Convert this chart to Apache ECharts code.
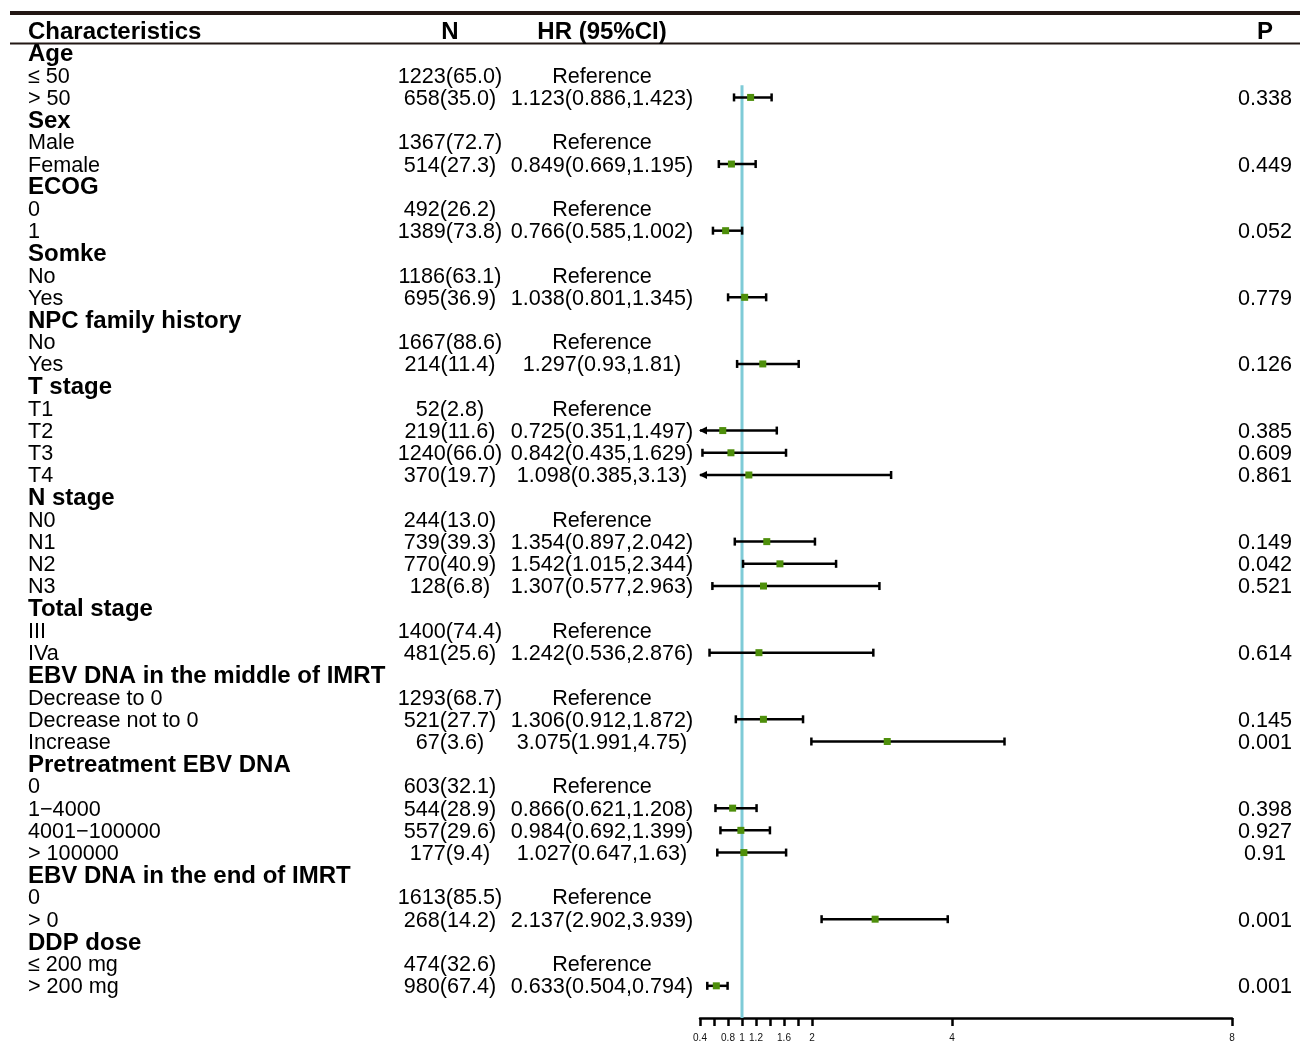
<!DOCTYPE html>
<html>
<head>
<meta charset="utf-8">
<title>Forest plot</title>
<script src="https://cdn.jsdelivr.net/npm/echarts@6/dist/echarts.min.js"></script>
<style>
  html, body { margin: 0; padding: 0; background: #ffffff; }
  #chart { width: 1300px; height: 1054px; }
</style>
</head>
<body>
<div id="chart"></div>
<script>
// Column titles of the table
const columnTitles = ['Characteristics', 'N', 'HR (95%CI)', 'P'];

// One entry per table row; group headings have no count
const characteristics = [
  'Age', '\u2264 50', '> 50',
  'Sex', 'Male', 'Female',
  'ECOG', '0', '1',
  'Somke', 'No', 'Yes',
  'NPC family history', 'No', 'Yes',
  'T stage', 'T1', 'T2', 'T3', 'T4',
  'N stage', 'N0', 'N1', 'N2', 'N3',
  'Total stage', 'III', 'IVa',
  'EBV DNA in the middle of IMRT', 'Decrease to 0', 'Decrease not to 0', 'Increase',
  'Pretreatment EBV DNA', '0', '1\u22124000', '4001\u2212100000', '> 100000',
  'EBV DNA in the end of IMRT', '0', '> 0',
  'DDP dose', '\u2264 200 mg', '> 200 mg'
];

const nCount = [
  null, 1223, 658,
  null, 1367, 514,
  null, 492, 1389,
  null, 1186, 695,
  null, 1667, 214,
  null, 52, 219, 1240, 370,
  null, 244, 739, 770, 128,
  null, 1400, 481,
  null, 1293, 521, 67,
  null, 603, 544, 557, 177,
  null, 1613, 268,
  null, 474, 980
];

const nPercent = [
  null, 65.0, 35.0,
  null, 72.7, 27.3,
  null, 26.2, 73.8,
  null, 63.1, 36.9,
  null, 88.6, 11.4,
  null, 2.8, 11.6, 66.0, 19.7,
  null, 13.0, 39.3, 40.9, 6.8,
  null, 74.4, 25.6,
  null, 68.7, 27.7, 3.6,
  null, 32.1, 28.9, 29.6, 9.4,
  null, 85.5, 14.2,
  null, 32.6, 67.4
];

// Hazard ratio and its 95% CI (null on heading and reference rows)
const hazardRatio = [
  null, null, 1.123,
  null, null, 0.849,
  null, null, 0.766,
  null, null, 1.038,
  null, null, 1.297,
  null, null, 0.725, 0.842, 1.098,
  null, null, 1.354, 1.542, 1.307,
  null, null, 1.242,
  null, null, 1.306, 3.075,
  null, null, 0.866, 0.984, 1.027,
  null, null, 2.137,
  null, null, 0.633
];

const ciLower = [
  null, null, 0.886,
  null, null, 0.669,
  null, null, 0.585,
  null, null, 0.801,
  null, null, 0.93,
  null, null, 0.351, 0.435, 0.385,
  null, null, 0.897, 1.015, 0.577,
  null, null, 0.536,
  null, null, 0.912, 1.991,
  null, null, 0.621, 0.692, 0.647,
  null, null, 2.902,
  null, null, 0.504
];

const ciUpper = [
  null, null, 1.423,
  null, null, 1.195,
  null, null, 1.002,
  null, null, 1.345,
  null, null, 1.81,
  null, null, 1.497, 1.629, 3.13,
  null, null, 2.042, 2.344, 2.963,
  null, null, 2.876,
  null, null, 1.872, 4.75,
  null, null, 1.208, 1.399, 1.63,
  null, null, 3.939,
  null, null, 0.794
];

const pValue = [
  null, null, 0.338,
  null, null, 0.449,
  null, null, 0.052,
  null, null, 0.779,
  null, null, 0.126,
  null, null, 0.385, 0.609, 0.861,
  null, null, 0.149, 0.042, 0.521,
  null, null, 0.614,
  null, null, 0.145, 0.001,
  null, null, 0.398, 0.927, 0.91,
  null, null, 0.001,
  null, null, 0.001
];

// Horizontal axis ticks and the subset that carries a label
const axisTicks = [0.4, 0.6, 0.8, 1, 1.2, 1.4, 1.6, 1.8, 2, 4, 8];
const axisLabels = [0.4, 0.8, 1, 1.2, 1.6, 2, 4, 8];

// ---------------------------------------------------------------------------

const X_MIN = 0.4, X_MAX = 8;
const ROW_FIRST = 53, ROW_STEP = 22.21;     // pixel layout of the table rows
const AXIS_ROW = 43.45;                     // row position of the x axis
const TEXT_SHIFT = 1.5;                     // nudges text onto the row centre line
const FONT = '"Liberation Sans", Arial, Helvetica, sans-serif';
const TEXT_SIZE = 21.6, HEAD_SIZE = 24;
const COL_LABEL = 28, COL_N = 450, COL_HR = 602, COL_P = 1265;

const nText = nCount.map((n, i) => n == null ? '' : n + '(' + nPercent[i].toFixed(1) + ')');
const hrText = hazardRatio.map((h, i) => {
  if (nCount[i] == null) return '';
  if (h == null) return 'Reference';
  return String(h) + '(' + String(ciLower[i]) + ',' + String(ciUpper[i]) + ')';
});
const pText = pValue.map(p => p == null ? '' : String(p));

// Rows with an estimate: box at the middle value, whisker from smallest to largest
const estimateRows = [];
hazardRatio.forEach((h, i) => {
  if (h == null) return;
  const v = [h, ciLower[i], ciUpper[i]].sort((a, b) => a - b);
  estimateRows.push({ row: i, lo: v[0], mid: v[1], hi: v[2] });
});

const tableData = characteristics.map((_, i) => [X_MIN, i]);
tableData.unshift([X_MIN, -1]);   // column title row

function textEl(x, y, text, opts) {
  return {
    type: 'text',
    x: x, y: y + TEXT_SHIFT,
    style: {
      text: text,
      fill: '#000',
      fontFamily: FONT,
      fontSize: opts.size,
      fontWeight: opts.bold ? 'bold' : 'normal',
      align: opts.align,
      verticalAlign: 'middle'
    }
  };
}

function renderTableRow(params, api) {
  const i = api.value(1);
  const y = api.coord([X_MIN, i])[1];
  const children = [];
  if (i === -1) {
    children.push(textEl(COL_LABEL, y, columnTitles[0], { size: HEAD_SIZE, bold: true, align: 'left' }));
    children.push(textEl(COL_N, y, columnTitles[1], { size: HEAD_SIZE, bold: true, align: 'center' }));
    children.push(textEl(COL_HR, y, columnTitles[2], { size: HEAD_SIZE, bold: true, align: 'center' }));
    children.push(textEl(COL_P, y, columnTitles[3], { size: HEAD_SIZE, bold: true, align: 'center' }));
  } else {
    const heading = nCount[i] == null;
    children.push(textEl(COL_LABEL, y, characteristics[i],
      { size: heading ? HEAD_SIZE : TEXT_SIZE, bold: heading, align: 'left' }));
    if (!heading) {
      children.push(textEl(COL_N, y, nText[i], { size: TEXT_SIZE, align: 'center' }));
      children.push(textEl(COL_HR, y, hrText[i], { size: TEXT_SIZE, align: 'center' }));
      if (pText[i]) children.push(textEl(COL_P, y, pText[i], { size: TEXT_SIZE, align: 'center' }));
    }
  }
  return { type: 'group', children: children };
}

function renderWhisker(params, api) {
  const lo = api.value(0), hi = api.value(1), row = api.value(2);
  const p1 = api.coord([Math.max(lo, X_MIN), row]);
  const p2 = api.coord([Math.min(hi, X_MAX), row]);
  const y = p1[1];
  const stroke = { stroke: '#000', lineWidth: 2.5 };
  const children = [{
    type: 'line',
    shape: { x1: p1[0], y1: y, x2: p2[0], y2: y },
    style: stroke
  }];
  if (lo >= X_MIN) {
    children.push({ type: 'line', shape: { x1: p1[0], y1: y - 4, x2: p1[0], y2: y + 4 }, style: stroke });
  } else {
    children.push({
      type: 'polygon',
      shape: { points: [[p1[0] - 1, y], [p1[0] + 7, y - 4], [p1[0] + 7, y + 4]] },
      style: { fill: '#000' }
    });
  }
  if (hi <= X_MAX) {
    children.push({ type: 'line', shape: { x1: p2[0], y1: y - 4, x2: p2[0], y2: y + 4 }, style: stroke });
  }
  return { type: 'group', children: children };
}

const chart = echarts.init(document.getElementById('chart'), null, { renderer: 'canvas' });

chart.setOption({
  animation: false,
  backgroundColor: '#ffffff',
  grid: {
    left: 700,
    right: 68,
    top: ROW_FIRST - ROW_STEP,
    bottom: 1054 - (ROW_FIRST + AXIS_ROW * ROW_STEP),
    containLabel: false
  },
  xAxis: {
    type: 'value',
    min: X_MIN,
    max: X_MAX,
    splitLine: { show: false },
    axisLine: { show: true, onZero: false, lineStyle: { color: '#000', width: 2.5 } },
    axisTick: {
      show: true,
      customValues: axisTicks,
      length: 8,
      lineStyle: { color: '#000', width: 2.5 }
    },
    axisLabel: {
      show: true,
      customValues: axisLabels,
      margin: 15,
      fontSize: 10,
      fontFamily: FONT,
      color: '#111',
      formatter: v => String(v)
    }
  },
  yAxis: {
    type: 'value',
    inverse: true,
    min: -1,
    max: AXIS_ROW,
    show: false
  },
  graphic: [
    { type: 'line', shape: { x1: 10, y1: 13, x2: 1300, y2: 13 }, style: { stroke: '#231815', lineWidth: 4 } },
    { type: 'line', shape: { x1: 10, y1: 43.5, x2: 1300, y2: 43.5 }, style: { stroke: '#231815', lineWidth: 2 } }
  ],
  series: [
    {
      name: 'table',
      type: 'custom',
      clip: false,
      renderItem: renderTableRow,
      data: tableData,
      silent: true,
      z: 5
    },
    {
      name: 'no effect',
      type: 'line',
      data: [[1, 1.45], [1, AXIS_ROW]],
      symbol: 'none',
      lineStyle: { color: '#7fcbd7', width: 3 },
      silent: true,
      z: 1
    },
    {
      name: '95% CI',
      type: 'custom',
      clip: false,
      renderItem: renderWhisker,
      data: estimateRows.map(r => [r.lo, r.hi, r.row]),
      silent: true,
      z: 3
    },
    {
      name: 'HR',
      type: 'scatter',
      symbol: 'rect',
      symbolSize: 7,
      data: estimateRows.map(r => [r.mid, r.row]),
      itemStyle: { color: '#4e8f0b', opacity: 1 },
      silent: true,
      z: 4
    }
  ]
});
</script>
</body>
</html>
